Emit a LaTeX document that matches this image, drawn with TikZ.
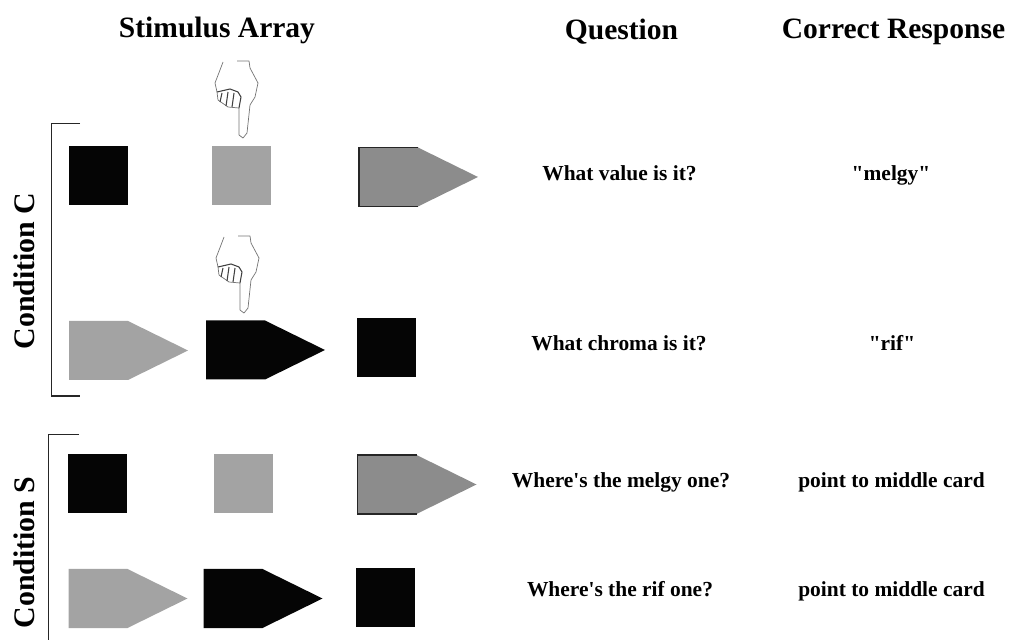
\documentclass[tikz,border=0pt]{standalone}
\usepackage{fontspec}
\setmainfont[Ligatures=TeXOff]{Liberation Serif}
\usetikzlibrary{
    positioning,  % better custom positioning
}
\definecolor{cardblack}{gray}{0.02}
\definecolor{cardlight}{gray}{0.64}
\definecolor{cardmid}{gray}{0.55}
\tikzset{
    head/.style={font=\bfseries\fontsize{16.8}{20}\selectfont},
    cond/.style={font=\bfseries\fontsize{17}{20}\selectfont, rotate=90},
    txt/.style={font=\bfseries\fontsize{12.2}{14}\selectfont, anchor=base},
    square/.style={minimum size=1.18cm, inner sep=0pt, anchor=west},
    bracket/.style={line width=1.1pt, black!85},
    pointer/.pic={
        \fill[pic actions] (0, 0.59) -- (1.18, 0.59) -- (2.38, 0) -- (1.18, -0.59) -- (0, -0.59) -- cycle;
    },
    hand/.pic={
        \begin{scope}[x=0.02cm, y=-0.02cm, line join=round]
            \draw[black!55, line width=0.4pt]
                (24,1) -- (36,1) -- (37,8) -- (45,23) -- (42,37) -- (37,45) -- (34,73) -- (30,78)
                -- (26,75) -- (26,48) -- (15,47) -- (5,40) -- (4,32) -- (2,23) -- (7,10) -- (10,2);
            \draw[black!75, line width=0.6pt]
                (4,32) -- (17,29) -- (25,32) -- (28,37) -- (26,48)
                (9,33) -- (7,42) (15,32) -- (13,46) (21,33) -- (19,47);
        \end{scope}
    },
}

\begin{document}
\begin{tikzpicture}
    \useasboundingbox (0, 0) rectangle (20.18, -12.8);

    \node[head] (stim) at (4.34, -0.6) {Stimulus Array};
    \node[head] (ques) at (12.43, -0.64) {Question};
    \node[head] (resp) at (17.87, -0.64) {Correct Response};

    % condition c
    \node[square, fill=cardblack] (c1) at (1.37, -3.52) {};
    \node[square, fill=cardlight] (c2) at (4.23, -3.51) {};
    \pic[fill=cardmid] at (7.18, -3.54) {pointer};
    \draw[bracket] (8.36, -2.95) -- (7.18, -2.95) -- (7.18, -4.13) -- (8.36, -4.13);
    \pic[fill=cardlight] at (1.38, -7.01) {pointer};
    \pic[fill=cardblack] at (4.12, -7.0) {pointer};
    \node[square, fill=cardblack] (c6) at (7.14, -6.95) {};
    \pic at (4.26, -1.2) {hand};
    \pic at (4.28, -4.7) {hand};

    % condition s
    \node[square, fill=cardblack] (s1) at (1.35, -9.68) {};
    \node[square, fill=cardlight] (s2) at (4.27, -9.68) {};
    \pic[fill=cardmid] at (7.15, -9.69) {pointer};
    \draw[bracket] (8.33, -9.1) -- (7.15, -9.1) -- (7.15, -10.28) -- (8.33, -10.28);
    \pic[fill=cardlight] at (1.37, -11.97) {pointer};
    \pic[fill=cardblack] at (4.07, -11.97) {pointer};
    \node[square, fill=cardblack] (s6) at (7.11, -11.95) {};

    \node[cond] (condc) at (0.49, -5.42) {Condition C};
    \node[cond] (conds) at (0.49, -11.05) {Condition S};
    \draw[bracket] (1.6, -2.47) -- (1.03, -2.47) -- (1.03, -7.92) -- (1.6, -7.92);
    \draw[bracket] (1.58, -8.69) -- (0.97, -8.69) -- (0.97, -12.8);

    \node[txt] (q1) at (12.39, -3.61) {What value is it?};
    \node[txt] (q2) at (12.38, -7.02) {What chroma is it?};
    \node[txt] (q3) at (12.42, -9.76) {Where's the melgy one?};
    \node[txt] (q4) at (12.4, -11.92) {Where's the rif one?};
    \node[txt] (r1) at (17.82, -3.61) {"melgy"};
    \node[txt] (r2) at (17.84, -7.02) {"rif"};
    \node[txt] (r3) at (17.83, -9.76) {point to middle card};
    \node[txt] (r4) at (17.83, -11.92) {point to middle card};
\end{tikzpicture}
\end{document}
